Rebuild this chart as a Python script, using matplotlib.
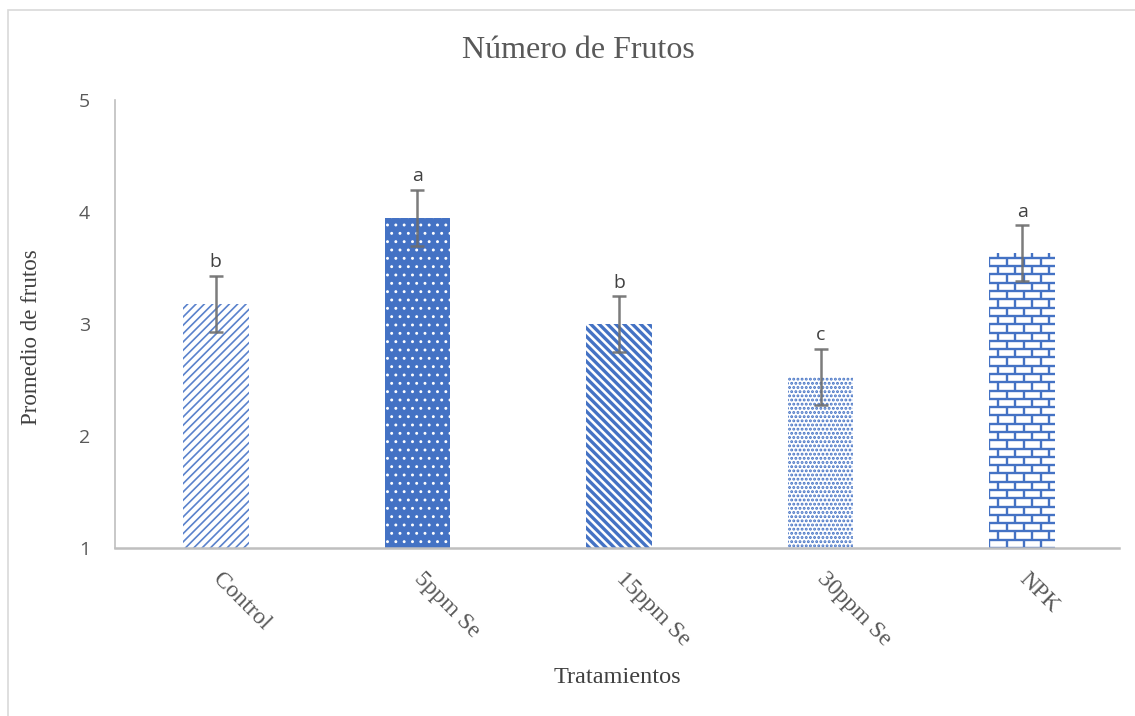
import matplotlib
matplotlib.use("Agg")
import matplotlib.pyplot as plt
import numpy as np
from matplotlib.collections import LineCollection
from matplotlib.patches import Rectangle

categories = ["Control", "5ppm Se", "15ppm Se", "30ppm Se", "NPK"]
means = [3.18, 3.95, 3.00, 2.53, 3.63]
errors = [0.25, 0.25, 0.25, 0.25, 0.25]
letters = ["b", "a", "b", "c", "a"]

BLUE = "#4472C4"
TEXT_GRAY = "#595959"
AXIS_GRAY = "#BFBFBF"
ERR_GRAY = "#6E6E6E"
SERIF = ["Liberation Serif", "DejaVu Serif"]
SANS = ["Open Sans", "DejaVu Sans"]

fig = plt.figure(figsize=(11.35, 7.16), dpi=100)
ax = fig.add_axes([115 / 1135, 1 - 548 / 716, 1004 / 1135, 448 / 716])

x = np.arange(len(categories))
width = 0.325

# bar styles: (face, hatch, hatch colour, hatch linewidth)
styles = [
    ("white", "////", "#5A82CC", 1.2),
    (BLUE, "..", "white", 0.9),
    ("white", "\\\\\\\\", BLUE, 2.4),
    ("white", "....", BLUE, 1.4),
    ("white", None, BLUE, 1.0),
]

bars = []
for i, (face, hatch, hcol, hlw) in enumerate(styles):
    plt.rcParams["hatch.linewidth"] = hlw
    b = ax.bar(x[i], means[i] - 1, width, bottom=1, color=face,
               edgecolor=hcol, linewidth=0, hatch=hatch, zorder=2)
    for p in b:
        try:
            p.set_hatch_linewidth(hlw)
        except AttributeError:
            pass
    bars.append(b[0])

# brick texture for the NPK bar
npk = bars[4]
x0, y0 = npk.get_x(), npk.get_y()
w, h = npk.get_width(), npk.get_height()
row_h = 0.074
brick_w = 0.085
segs = []
nrows = int(np.ceil(h / row_h)) + 1
for r in range(nrows):
    yb = y0 + r * row_h
    segs.append([(x0, yb), (x0 + w, yb)])
    shift = 0 if r % 2 == 0 else brick_w / 2
    xv = x0 + shift
    while xv <= x0 + w + 1e-9:
        segs.append([(xv, yb), (xv, yb + row_h)])
        xv += brick_w
lc = LineCollection(segs, colors=BLUE, linewidths=1.7, zorder=2.5)
ax.add_collection(lc)
lc.set_clip_path(npk)

ax.errorbar(x, means, yerr=errors, fmt="none", ecolor=ERR_GRAY,
            elinewidth=1.8, capsize=5, capthick=1.8, zorder=3, alpha=0.9)

for xi, m, e, l in zip(x, means, errors, letters):
    ax.text(xi, m + e + 0.04, l, ha="center", va="bottom",
            fontsize=14, color="#404040", family=SANS)

ax.set_xlim(-0.5, len(categories) - 0.5 - 0.02)
ax.set_ylim(1, 5)
ax.set_yticks([1, 2, 3, 4, 5])
ax.set_xticks(x)
ax.set_xticklabels(categories, rotation=-45, ha="left", va="center",
                   rotation_mode="anchor", family=SERIF, fontsize=17,
                   color=TEXT_GRAY)
for t in ax.get_yticklabels():
    t.set_family(SANS)
    t.set_fontsize(14)
    t.set_color(TEXT_GRAY)

ax.tick_params(axis="x", length=0, pad=20)
ax.tick_params(axis="y", length=0, pad=18)

for s in ["top", "right"]:
    ax.spines[s].set_visible(False)
ax.spines["left"].set_color(AXIS_GRAY)
ax.spines["left"].set_linewidth(1.2)
ax.spines["bottom"].set_color(AXIS_GRAY)
ax.spines["bottom"].set_linewidth(1.8)
ax.spines["bottom"].set_zorder(4)

ax.set_ylabel("Promedio de frutos", family=SERIF, fontsize=16.5, color="#404040")
ax.yaxis.set_label_coords(-0.073, 0.471)
ax.set_xlabel("Tratamientos", family=SERIF, fontsize=17.5, color="#404040")
ax.xaxis.set_label_coords(0.5, -0.265)

fig.text(578 / 1135, 1 - 51 / 716, "Número de Frutos", family=SERIF,
         fontsize=23, color=TEXT_GRAY, ha="center", va="center")

# chart frame
fig.add_artist(Rectangle((8 / 1135, -0.01), 1.1, 1 - 10 / 716 + 0.01,
                         transform=fig.transFigure, fill=False,
                         edgecolor="#D9D9D9", linewidth=1.2))

fig.savefig("out.png", dpi=100, facecolor="white")
